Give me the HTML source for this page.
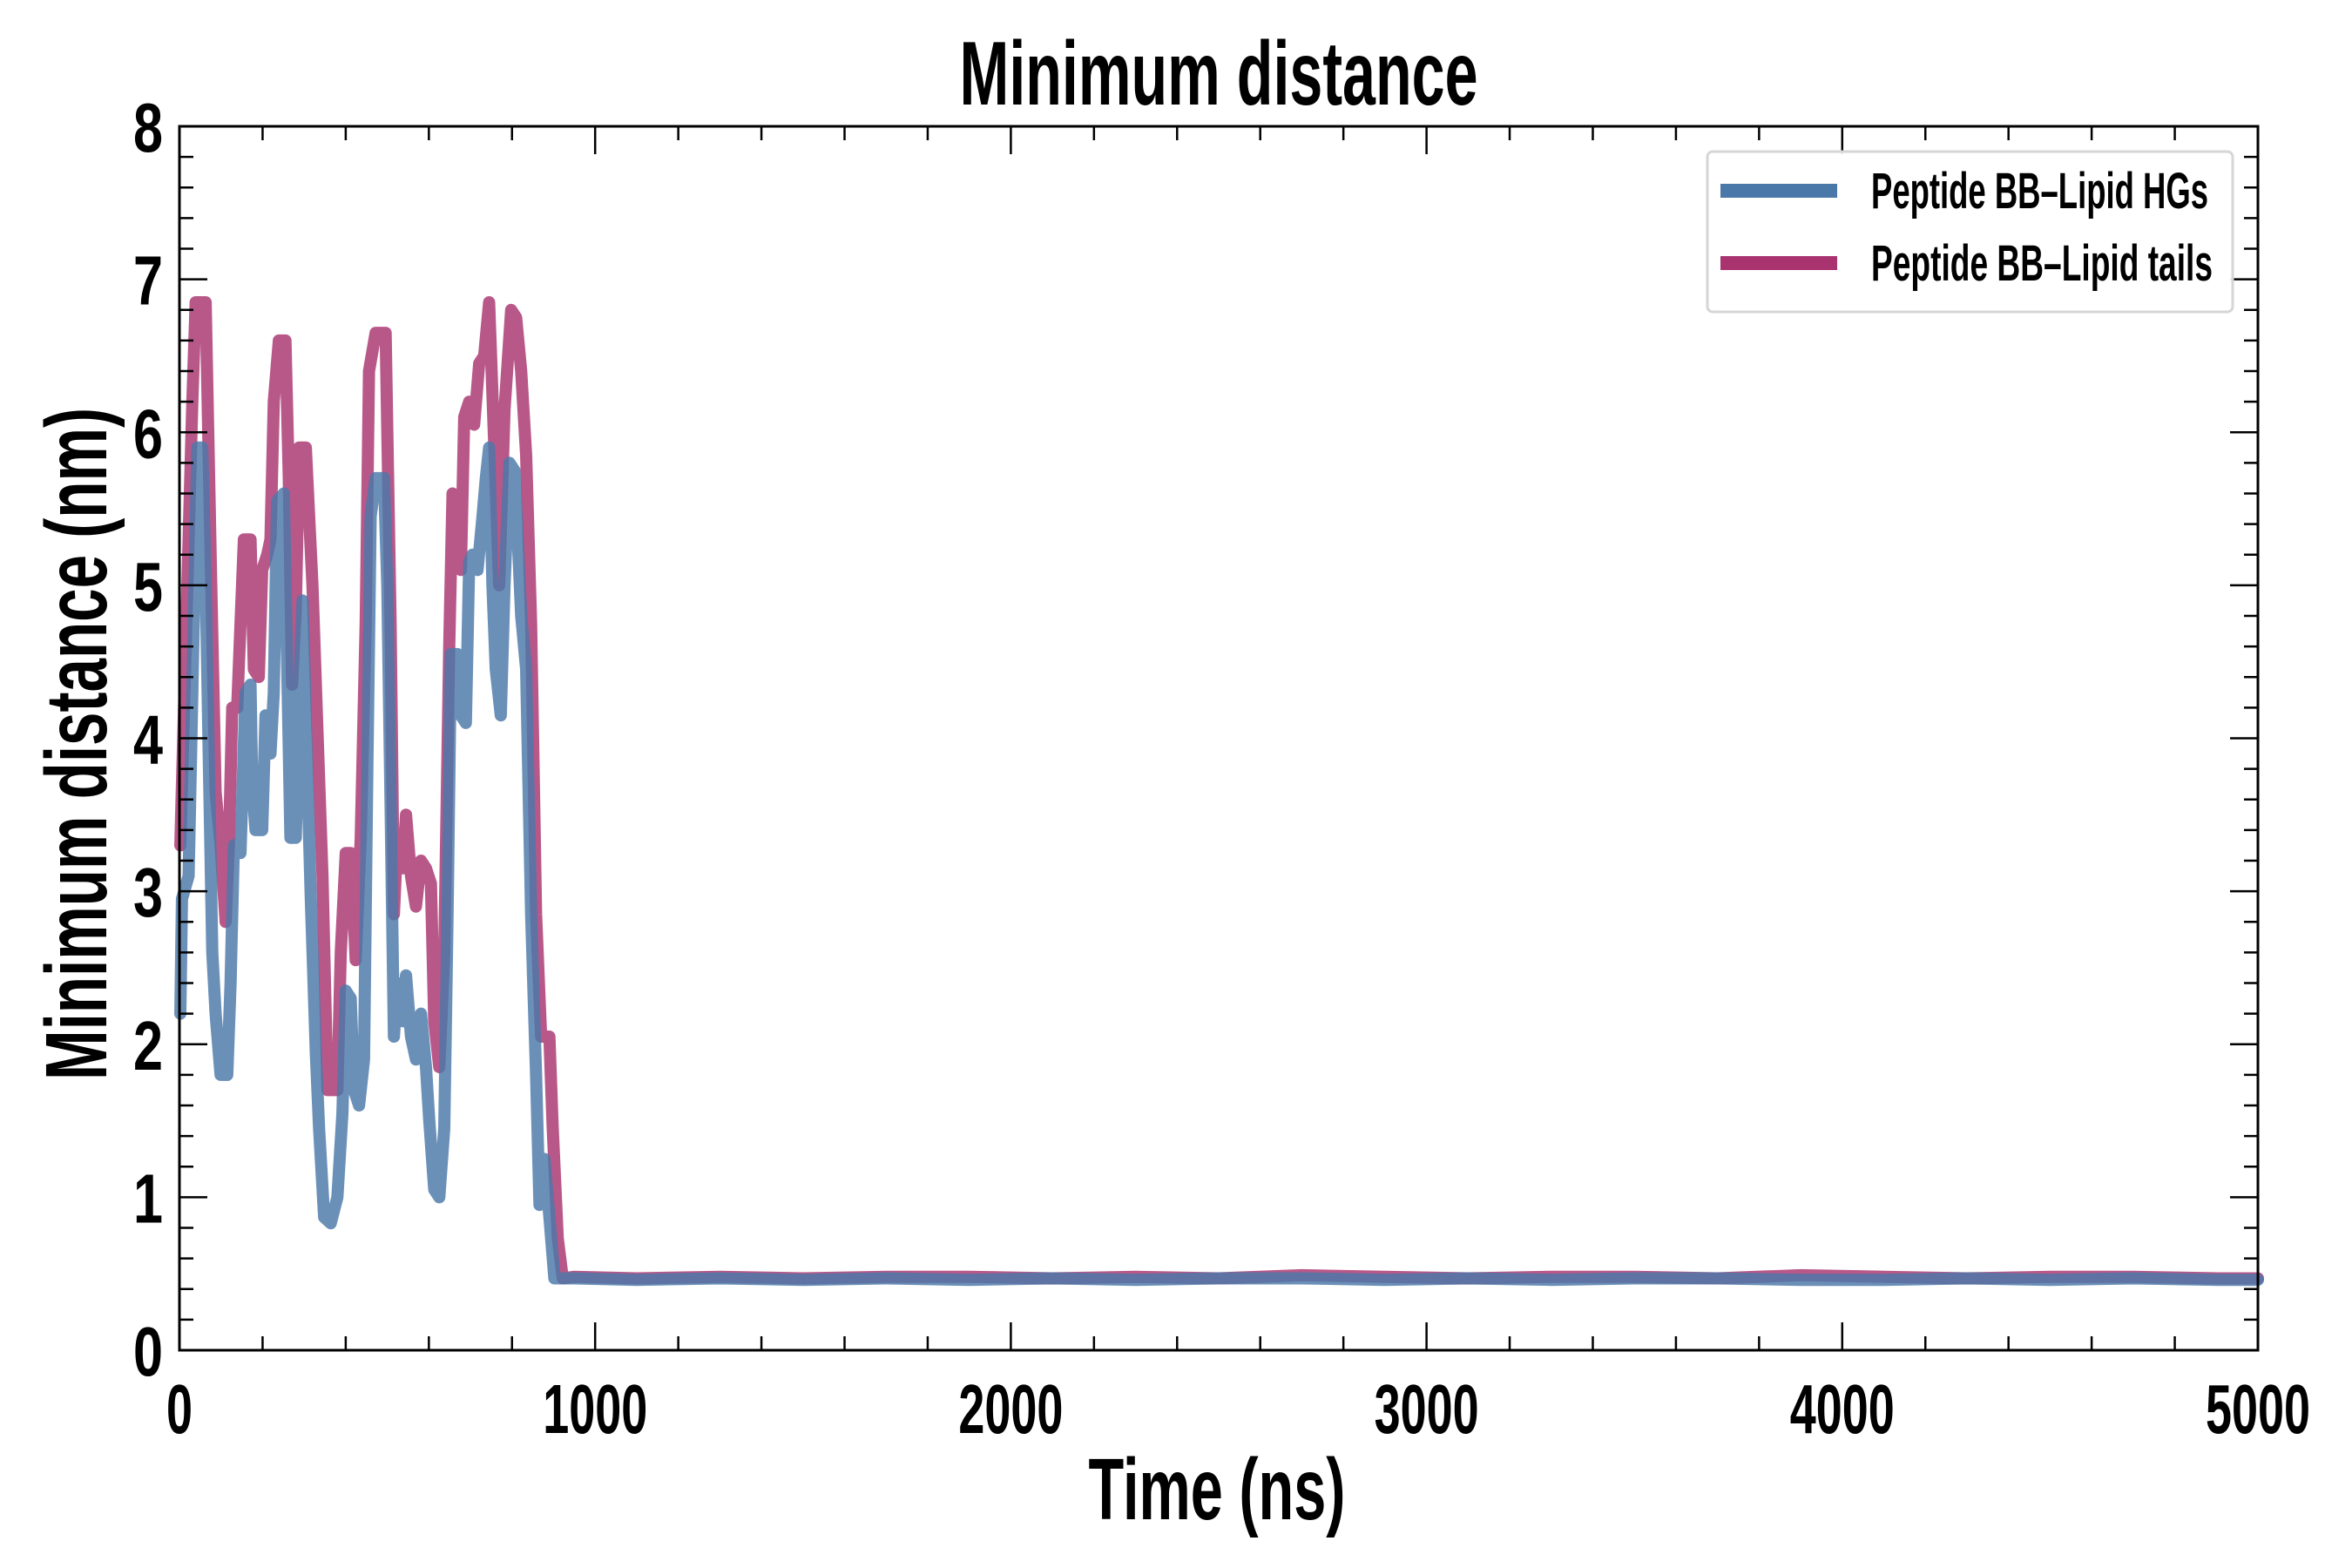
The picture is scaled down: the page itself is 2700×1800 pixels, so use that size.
<!DOCTYPE html>
<html><head><meta charset="utf-8"><style>
html,body{margin:0;padding:0;background:#fff;}
svg{display:block;font-family:"Liberation Sans",sans-serif;font-weight:bold;}
</style></head><body>
<svg id="chart" width="2700" height="1800" viewBox="0 0 2700 1800">
<g id="plot"></g>
</svg>
<script>
const xTicks=[0,1000,2000,3000,4000,5000];
const yTicks=[0,1,2,3,4,5,6,7,8];
const tailT=[950,1100,1300,1500,1700,1900,2100,2300,2500,2700,2900,3100,3300,3500,3700,3900,4100,4300,4500,4700,4900,5000];
const hgT=[2,6,22,31,43,55,63,71,79,87,99,115,123,131,147,159,171,175,183,199,207,219,227,235,251,259,267,280,288,296,304,316,328,336,348,364,380,392,400,412,420,432,444,452,460,472,492,500,508,516,524,537,545,557,569,581,593,601,613,625,637,645,653,669,677,689,697,705,717,729,737,745,753,761,773,782,794,806,814,822,834,846,858,866,878,890,902];
const hgV=[2.2,2.95,3.1,4.3,5.9,5.9,5.0,3.8,2.6,2.2,1.8,1.8,2.4,3.3,3.25,4.3,4.35,3.7,3.4,3.4,4.15,3.9,4.3,5.55,5.6,4.5,3.35,3.35,4.3,4.9,4.1,2.95,1.95,1.45,0.87,0.83,1.0,1.55,2.35,2.3,1.7,1.6,1.9,3.8,5.45,5.7,5.7,5.0,3.55,2.05,2.4,2.15,2.45,2.05,1.9,2.2,1.85,1.5,1.05,1.0,1.45,2.85,4.55,4.55,4.15,4.1,5.15,5.2,5.1,5.45,5.7,5.9,5.0,4.45,4.15,5.0,5.8,5.75,5.3,4.8,4.45,2.85,1.8,0.95,1.25,0.87,0.47];
const hgTail=[0.47,0.46,0.47,0.46,0.47,0.46,0.47,0.46,0.47,0.47,0.46,0.47,0.46,0.47,0.47,0.46,0.46,0.47,0.46,0.47,0.46,0.46];
const tlT=[2,10,31,39,63,75,87,99,111,119,127,139,147,155,171,179,191,199,211,219,227,239,255,263,271,280,288,304,320,332,344,356,380,388,400,412,424,436,448,456,472,496,508,516,524,537,545,557,569,581,593,605,613,625,637,649,657,669,677,685,697,709,721,733,745,757,769,782,798,810,822,834,846,858,870,890,898,910,922];
const tlV=[3.3,4.1,6.2,6.85,6.85,5.2,3.65,3.3,2.8,3.3,4.2,4.2,4.75,5.3,5.3,4.45,4.4,5.1,5.2,5.3,6.2,6.6,6.6,5.7,4.35,4.85,5.9,5.9,5.0,4.05,3.1,1.7,1.7,2.6,3.25,3.25,2.55,3.35,4.75,6.4,6.65,6.65,4.75,2.85,3.35,3.15,3.5,3.1,2.9,3.2,3.15,3.05,2.15,1.85,2.6,4.6,5.6,5.55,5.1,6.1,6.2,6.05,6.45,6.5,6.85,5.95,5.0,6.15,6.8,6.75,6.4,5.85,4.75,2.85,2.05,2.05,1.45,0.73,0.47];
const tlTail=[0.48,0.47,0.48,0.47,0.48,0.48,0.47,0.48,0.47,0.49,0.48,0.47,0.48,0.48,0.47,0.49,0.48,0.47,0.48,0.48,0.47,0.47];

const L=206,R=2592,T=145,B=1550;
const X=t=>L+(t/5000)*(R-L);
const Y=v=>B-(v/8)*(B-T);
const NS="http://www.w3.org/2000/svg";
const plot=document.getElementById('plot');
function mk(tag,attrs,parent){const e=document.createElementNS(NS,tag);for(const k in attrs)e.setAttribute(k,attrs[k]);(parent||plot).appendChild(e);return e;}

function series(ts,vs,tt,tv,color,name){
  const pts=ts.map((t,i)=>X(t).toFixed(1)+","+Y(vs[i]).toFixed(1));
  tt.forEach((t,i)=>pts.push(X(t).toFixed(1)+","+Y(tv[i]).toFixed(1)));
  const p=mk('polyline',{points:pts.join(' '),fill:'none',stroke:color,'stroke-width':14,'stroke-opacity':0.82,'stroke-linejoin':'round','stroke-linecap':'round'});
  
  
}
series(tlT,tlV,tailT,tlTail,'#a8336f','series-lipid-tails');
series(hgT,hgV,tailT,hgTail,'#4a78a8','series-lipid-hgs');

const ticks=mk('g',{stroke:'#000','stroke-width':2.5});


for(let t=0;t<=5000;t+=200){const x=X(t);const len=(t%1000===0)?32:16;
  mk('line',{x1:x,y1:B,x2:x,y2:B-len},ticks);mk('line',{x1:x,y1:T,x2:x,y2:T+len},ticks);}
for(let i=0;i<=40;i++){const v=i*0.2;const y=Y(v);const len=(i%5===0)?32:16;
  mk('line',{x1:L,y1:y,x2:L+len,y2:y},ticks);mk('line',{x1:R,y1:y,x2:R-len,y2:y},ticks);}
const frame=mk('rect',{x:L,y:T,width:R-L,height:B-T,fill:'none',stroke:'#000','stroke-width':3});



xTicks.forEach(t=>{const s=String(t);const tx=mk('text',{x:X(t),y:1645,'text-anchor':'middle','font-size':80,textLength:s.length*30,lengthAdjust:'spacingAndGlyphs'});tx.textContent=s;
  
  });
yTicks.forEach(v=>{const tx=mk('text',{x:187,y:Y(v)+29,'text-anchor':'end','font-size':80,textLength:34,lengthAdjust:'spacingAndGlyphs'});tx.textContent=String(v);
  
  });

let e=mk('text',{x:1399,y:120,'text-anchor':'middle','font-size':104,textLength:595,lengthAdjust:'spacingAndGlyphs'});e.textContent='Minimum distance';


e=mk('text',{x:1397,y:1744,'text-anchor':'middle','font-size':100,textLength:295,lengthAdjust:'spacingAndGlyphs'});e.textContent='Time (ns)';


e=mk('text',{x:0,y:0,'text-anchor':'middle','font-size':100,textLength:772,lengthAdjust:'spacingAndGlyphs',transform:'translate(122,854) rotate(-90)'});e.textContent='Minimum distance (nm)';



const lg=mk('g',{});


mk('rect',{x:1960,y:174,width:603,height:184,rx:6,fill:'#fff','fill-opacity':0.9,stroke:'#d6d6d6','stroke-width':3},lg);
const items=[['Peptide BB\u2013Lipid HGs','#4a78a8',219,387,'legend-entry-hgs'],['Peptide BB\u2013Lipid tails','#a8336f',302,392,'legend-entry-tails']];
items.forEach(it=>{const g=mk('g',{},lg);
  
  
  mk('rect',{x:1975,y:it[2]-8,width:134,height:16,fill:it[1]},g);
  const t=mk('text',{x:2148,y:it[2]+20,'font-size':58,textLength:it[3],lengthAdjust:'spacingAndGlyphs'},g);t.textContent=it[0];});
</script>
</body></html>
